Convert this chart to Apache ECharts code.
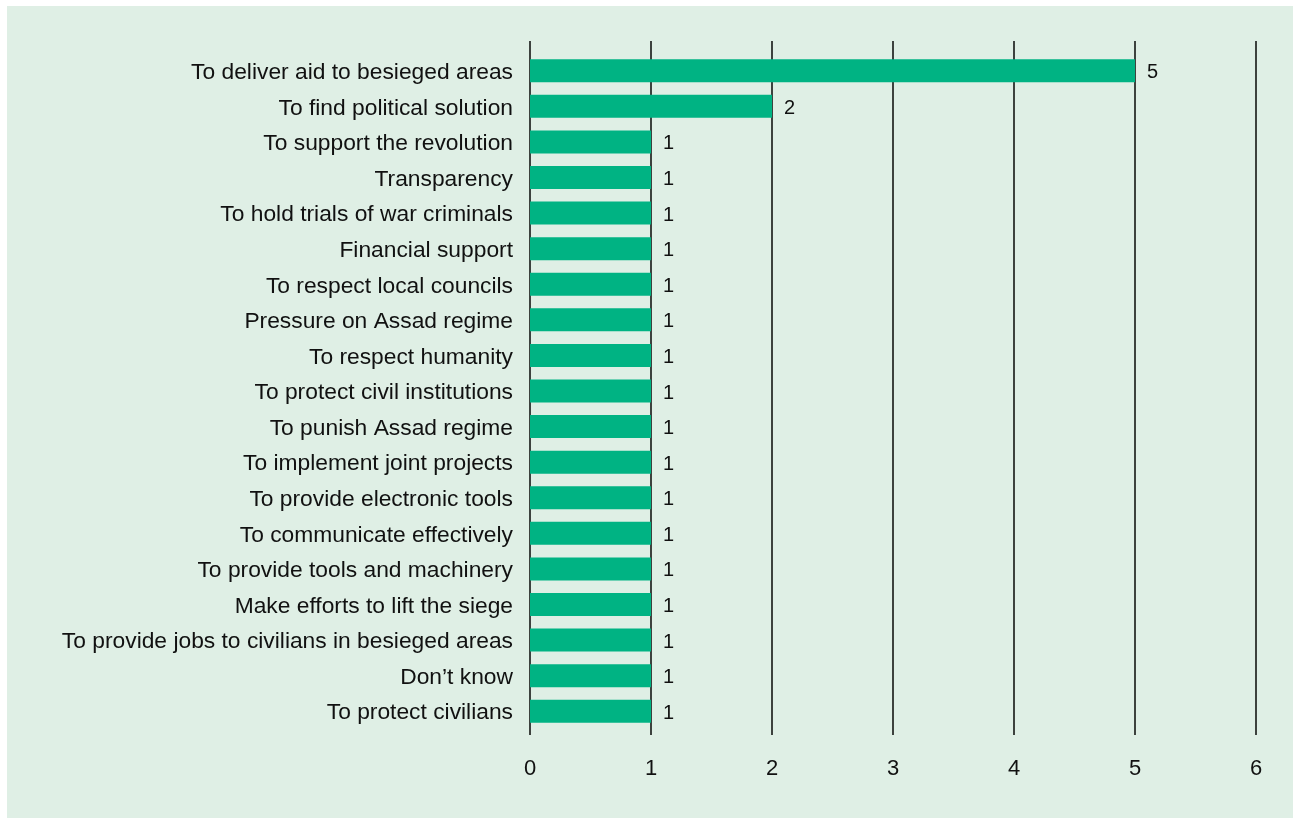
<!DOCTYPE html>
<html>
<head>
<meta charset="utf-8">
<script src="https://cdn.jsdelivr.net/npm/echarts@6/dist/echarts.min.js"></script>
<style>
  html, body { margin: 0; padding: 0; background: #ffffff; }
  #chart { position: absolute; left: 7px; top: 6px; width: 1286px; height: 812px; }
</style>
</head>
<body>
<div id="chart"></div>
<script>
// Responses, listed top to bottom
const categories = [
  "To deliver aid to besieged areas",
  "To find political solution",
  "To support the revolution",
  "Transparency",
  "To hold trials of war criminals",
  "Financial support",
  "To respect local councils",
  "Pressure on Assad regime",
  "To respect humanity",
  "To protect civil institutions",
  "To punish Assad regime",
  "To implement joint projects",
  "To provide electronic tools",
  "To communicate effectively",
  "To provide tools and machinery",
  "Make efforts to lift the siege",
  "To provide jobs to civilians in besieged areas",
  "Don\u2019t know",
  "To protect civilians"
];
const counts = [5, 2, 1, 1, 1, 1, 1, 1, 1, 1, 1, 1, 1, 1, 1, 1, 1, 1, 1];
const axisMin = 0, axisMax = 6, axisStep = 1;

const FONT = "'Liberation Sans', Arial, Helvetica, sans-serif";
const chart = echarts.init(document.getElementById('chart'));

chart.setOption({
  backgroundColor: '#dfefe5',
  animation: false,
  grid: [
    // frame carrying the vertical reference lines and the count scale
    { left: 523, right: 37, top: 35, bottom: 83 },
    // frame carrying the bars
    { left: 523, right: 37, top: 47, bottom: 89 }
  ],
  xAxis: [
    {
      gridIndex: 0, type: 'value', min: axisMin, max: axisMax, interval: axisStep,
      axisLine: { show: false }, axisTick: { show: false },
      splitLine: { show: true, lineStyle: { color: '#3d423e', width: 2 } },
      axisLabel: { color: '#111', fontSize: 22, fontFamily: FONT, margin: 23 }
    },
    {
      gridIndex: 1, type: 'value', min: axisMin, max: axisMax, interval: axisStep,
      show: false
    }
  ],
  yAxis: [
    { gridIndex: 0, type: 'value', show: false },
    {
      gridIndex: 1, type: 'category', data: categories, inverse: true,
      axisLine: { show: false }, axisTick: { show: false },
      splitLine: { show: false },
      axisLabel: {
        margin: 17,
        formatter: '{t|{value}}',
        rich: {
          t: { color: '#111', fontSize: 22.8, fontFamily: FONT, padding: [4, 0, 0, 0] }
        }
      }
    }
  ],
  series: [{
    type: 'bar',
    xAxisIndex: 1, yAxisIndex: 1,
    data: counts,
    barWidth: 23,
    itemStyle: { color: '#00b383' },
    label: {
      show: true, position: 'right', distance: 12, offset: [0, 2],
      color: '#111', fontSize: 20, fontFamily: FONT
    }
  }]
});
</script>
</body>
</html>
